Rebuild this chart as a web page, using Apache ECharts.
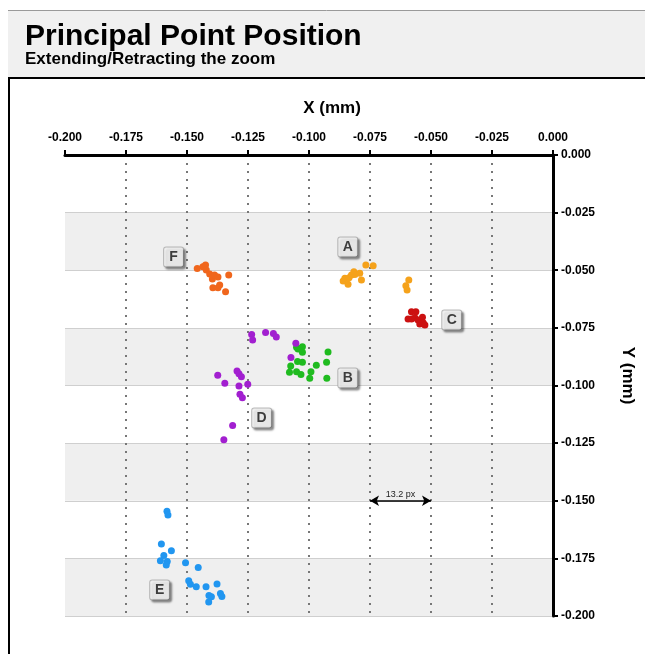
<!DOCTYPE html>
<html>
<head>
<meta charset="utf-8">
<script src="https://cdn.jsdelivr.net/npm/echarts@6/dist/echarts.min.js"></script>
<style>
html,body{margin:0;padding:0;background:#fff;}
#chart{width:645px;height:654px;}
</style>
</head>
<body>
<div id="chart"></div>
<script>
// ---- data ----
const titleText = 'Principal Point Position';
const subtitleText = 'Extending/Retracting the zoom';
const xName = 'X (mm)';
const yName = 'Y (mm)';
const axisMin = -0.2, axisMax = 0, axisStep = 0.025;

const seriesA = [[-0.0860,-0.0547],[-0.0853,-0.0535],[-0.0840,-0.0561],[-0.0836,-0.0532],[-0.0826,-0.0521],[-0.0816,-0.0506],[-0.0812,-0.0518],[-0.0792,-0.0513],[-0.0785,-0.0542],[-0.0767,-0.0477],[-0.0737,-0.0480],[-0.0591,-0.0542],[-0.0603,-0.0567],[-0.0598,-0.0586]];
const seriesB = [[-0.1051,-0.0834],[-0.1045,-0.0842],[-0.1027,-0.0832],[-0.1027,-0.0856],[-0.1075,-0.0915],[-0.1047,-0.0896],[-0.1027,-0.0899],[-0.0970,-0.0912],[-0.0928,-0.0899],[-0.0922,-0.0855],[-0.1080,-0.0942],[-0.1051,-0.0940],[-0.1033,-0.0952],[-0.0992,-0.0940],[-0.0997,-0.0969],[-0.0927,-0.0969]];
const seriesC = [[-0.0580,-0.0680],[-0.0562,-0.0680],[-0.0594,-0.0711],[-0.0580,-0.0711],[-0.0566,-0.0706],[-0.0553,-0.0716],[-0.0535,-0.0704],[-0.0532,-0.0728],[-0.0546,-0.0733],[-0.0525,-0.0738]];
const seriesD = [[-0.1235,-0.0779],[-0.1231,-0.0803],[-0.1178,-0.0770],[-0.1146,-0.0774],[-0.1134,-0.0790],[-0.1054,-0.0817],[-0.1074,-0.0878],[-0.1374,-0.0956],[-0.1345,-0.0990],[-0.1295,-0.0937],[-0.1287,-0.0949],[-0.1277,-0.0962],[-0.1287,-0.1002],[-0.1251,-0.0995],[-0.1283,-0.1038],[-0.1273,-0.1053],[-0.1313,-0.1173],[-0.1349,-0.1235]];
const seriesE = [[-0.1582,-0.1546],[-0.1578,-0.1562],[-0.1605,-0.1688],[-0.1564,-0.1717],[-0.1595,-0.1738],[-0.1609,-0.1760],[-0.1581,-0.1764],[-0.1585,-0.1779],[-0.1506,-0.1769],[-0.1454,-0.1790],[-0.1493,-0.1847],[-0.1486,-0.1862],[-0.1462,-0.1873],[-0.1422,-0.1873],[-0.1377,-0.1861],[-0.1410,-0.1911],[-0.1400,-0.1916],[-0.1363,-0.1902],[-0.1357,-0.1915],[-0.1411,-0.1939]];
const seriesF = [[-0.1458,-0.0492],[-0.1435,-0.0485],[-0.1424,-0.0477],[-0.1421,-0.0499],[-0.1407,-0.0516],[-0.1396,-0.0538],[-0.1387,-0.0521],[-0.1373,-0.0529],[-0.1329,-0.0521],[-0.1394,-0.0576],[-0.1373,-0.0576],[-0.1366,-0.0564],[-0.1342,-0.0593]];

const clusterNames = ['A','B','C','D','E','F'];
const clusterColors = ['#f5a21b','#1fbb1f','#cc1111','#a21fd0','#2196f0','#f0661c'];
const clusterData = [seriesA, seriesB, seriesC, seriesD, seriesE, seriesF];
// label box positions for each cluster letter
const labelPos = [[-0.0841,-0.0399],[-0.0841,-0.0967],[-0.0415,-0.0716],[-0.1194,-0.1141],[-0.1612,-0.1887],[-0.1555,-0.0443]];

const annotFrom = [-0.075, -0.15];
const annotTo = [-0.05, -0.15];
const annotText = '13.2 px';

// ---- chart ----
const FONT = '"Liberation Sans", Arial, sans-serif';
const chart = echarts.init(document.getElementById('chart'));

const scatterSeries = clusterData.map((d, i) => ({
  name: clusterNames[i],
  type: 'scatter',
  data: d,
  symbolSize: 7,
  itemStyle: { color: clusterColors[i], opacity: 1 },
  z: 3
}));

const labelSeries = {
  name: 'labels',
  type: 'scatter',
  symbolSize: 0,
  silent: true,
  data: labelPos.map((p, i) => ({ value: p, name: clusterNames[i] })),
  label: {
    show: true,
    position: 'inside',
    formatter: p => p.name,
    fontFamily: FONT,
    fontWeight: 'bold',
    fontSize: 14,
    color: '#111',
    backgroundColor: '#f7f7f7',
    borderColor: '#aaa',
    borderWidth: 1,
    borderRadius: 2,
    padding: [3, 4, 2, 4],
    width: 11,
    align: 'center',
    shadowColor: 'rgba(0,0,0,0.45)',
    shadowBlur: 2,
    shadowOffsetX: 2,
    shadowOffsetY: 2
  },
  markLine: {
    silent: true,
    symbol: ['arrow', 'arrow'],
    symbolSize: [8, 9],
    lineStyle: { color: '#000', width: 1.5, type: 'solid' },
    label: {
      show: true,
      position: 'middle',
      formatter: annotText,
      fontFamily: FONT,
      fontSize: 9,
      color: '#222',
      distance: 2
    },
    data: [[{ coord: annotFrom }, { coord: annotTo }]]
  },
  z: 5
};

const option = {
  animation: false,
  backgroundColor: '#ffffff',
  title: {
    text: titleText,
    subtext: subtitleText,
    left: 20,
    top: 17,
    itemGap: -1,
    textStyle: { fontFamily: FONT, fontWeight: 'bold', fontSize: 30, color: '#000' },
    subtextStyle: { fontFamily: FONT, fontWeight: 'bold', fontSize: 17, color: '#000' }
  },
  graphic: [
    { type: 'rect', z: -10, shape: { x: 8, y: 10, width: 637, height: 67 }, style: { fill: '#f0f0f0' } },
    { type: 'line', z: -9, shape: { x1: 8, y1: 10.5, x2: 645, y2: 10.5 }, style: { stroke: '#9a9a9a', lineWidth: 1 } },
    { type: 'line', z: 10, shape: { x1: 8, y1: 78, x2: 645, y2: 78 }, style: { stroke: '#000', lineWidth: 2 } },
    { type: 'line', z: 10, shape: { x1: 9, y1: 77, x2: 9, y2: 654 }, style: { stroke: '#000', lineWidth: 2 } }
  ],
  grid: { left: 65, right: 92, top: 155, bottom: 38, containLabel: false },
  xAxis: {
    type: 'value',
    position: 'top',
    min: axisMin, max: axisMax, interval: axisStep,
    name: xName,
    nameLocation: 'middle',
    nameGap: 38,
    nameTextStyle: { fontFamily: FONT, fontWeight: 'bold', fontSize: 17, color: '#000', padding: [0, 0, 0, 46] },
    axisLine: { show: true, onZero: false, lineStyle: { color: '#000', width: 3 } },
    axisTick: { show: true, length: 5, lineStyle: { color: '#000', width: 2 } },
    axisLabel: { fontFamily: FONT, fontWeight: 'bold', fontSize: 12, color: '#000', margin: 11, formatter: v => v.toFixed(3) },
    splitLine: { show: true, showMinLine: false, showMaxLine: false, lineStyle: { color: '#777', type: [2, 6], width: 2 } }
  },
  yAxis: {
    type: 'value',
    position: 'right',
    min: axisMin, max: axisMax, interval: axisStep,
    name: yName,
    nameLocation: 'middle',
    nameRotate: -90,
    nameGap: 66,
    nameTextStyle: { fontFamily: FONT, fontWeight: 'bold', fontSize: 17, color: '#000', padding: [0, 20, 0, 0] },
    axisLine: { show: true, onZero: false, lineStyle: { color: '#000', width: 3 } },
    axisTick: { show: true, length: 5, lineStyle: { color: '#000', width: 2 } },
    axisLabel: { fontFamily: FONT, fontWeight: 'bold', fontSize: 12, color: '#000', margin: 8, formatter: v => v.toFixed(3) },
    splitLine: { show: true, lineStyle: { color: '#cfcfcf', width: 1 } },
    splitArea: { show: true, areaStyle: { color: ['#efefef', '#ffffff'] } }
  },
  series: scatterSeries.concat([labelSeries])
};
chart.setOption(option);
</script>
</body>
</html>
